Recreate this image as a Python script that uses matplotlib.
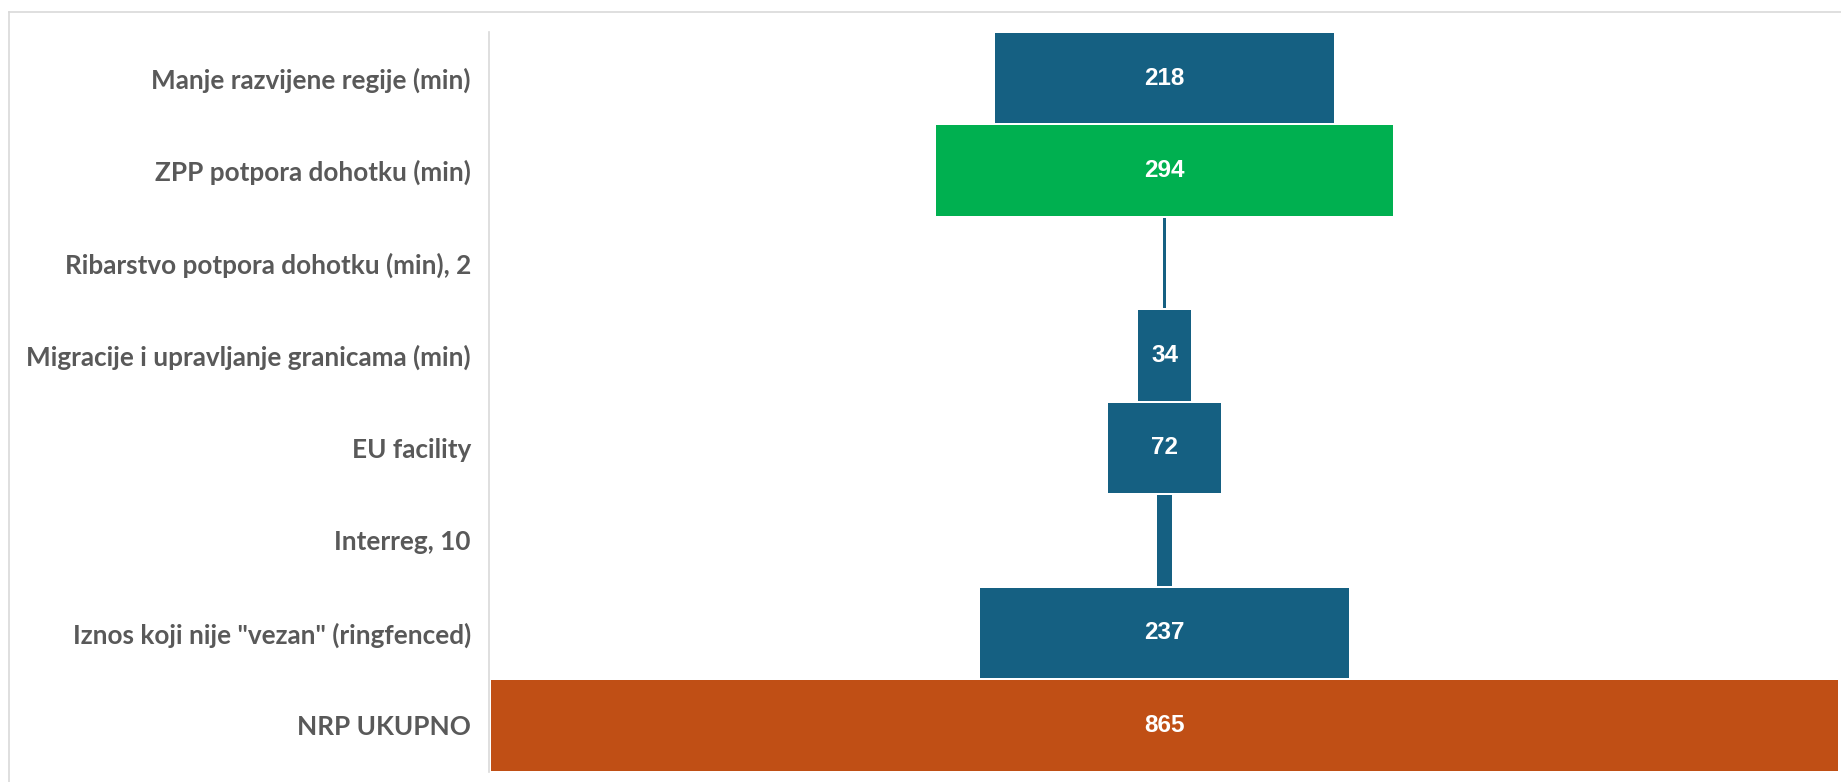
import matplotlib
matplotlib.use("Agg")
import matplotlib.pyplot as plt
from matplotlib.lines import Line2D

categories = [
    "Manje razvijene regije (min)",
    "ZPP potpora dohotku (min)",
    "Ribarstvo potpora dohotku (min), 2",
    "Migracije i upravljanje granicama (min)",
    "EU facility",
    "Interreg, 10",
    "Iznos koji nije \"vezan\" (ringfenced)",
    "NRP UKUPNO",
]
values = [218, 294, 2, 34, 72, 10, 237, 865]
show_value = [True, True, False, True, True, False, True, True]
colors = ["#156082", "#00B050", "#156082", "#156082", "#156082", "#156082", "#156082", "#C04F15"]

W, H = 1841, 782
fig = plt.figure(figsize=(W / 100, H / 100), dpi=100)
fig.patch.set_facecolor("white")

# outer frame (left and top)
fig.add_artist(Line2D([8.5 / W, 8.5 / W], [0, 1 - 12 / H], color="#d9d9d9", lw=1.2, transform=fig.transFigure))
fig.add_artist(Line2D([8.5 / W, 1], [1 - 12 / H, 1 - 12 / H], color="#d9d9d9", lw=1.2, transform=fig.transFigure))

ax_left, ax_right = 489, 1840
ax_top, ax_bot = 31.8, 771.7
ax = fig.add_axes([ax_left / W, 1 - ax_bot / H, (ax_right - ax_left) / W, (ax_bot - ax_top) / H])

n = len(values)
ys = list(range(n))
lefts = [-v / 2 for v in values]
ax.barh(ys, values, left=lefts, height=0.978, color=colors, edgecolor="none")

half = 433.8
ax.set_xlim(-half, half)
ax.set_ylim(n - 0.5, -0.5)

for y, v, s in zip(ys, values, show_value):
    if s:
        ax.text(0, y, str(v), ha="center", va="center", color="white",
                fontsize=17.5, fontweight="bold", family="Liberation Sans")

ax.set_yticks(ys)
ax.set_yticklabels(categories, fontsize=18.8, fontweight="bold", color="#595959", family="Lato")
ax.tick_params(axis="y", length=0, pad=13)
ax.set_xticks([])
for side in ["top", "right", "bottom"]:
    ax.spines[side].set_visible(False)
ax.spines["left"].set_color("#d9d9d9")
ax.spines["left"].set_linewidth(1.2)

fig.savefig("out.png", dpi=100, facecolor="white")
